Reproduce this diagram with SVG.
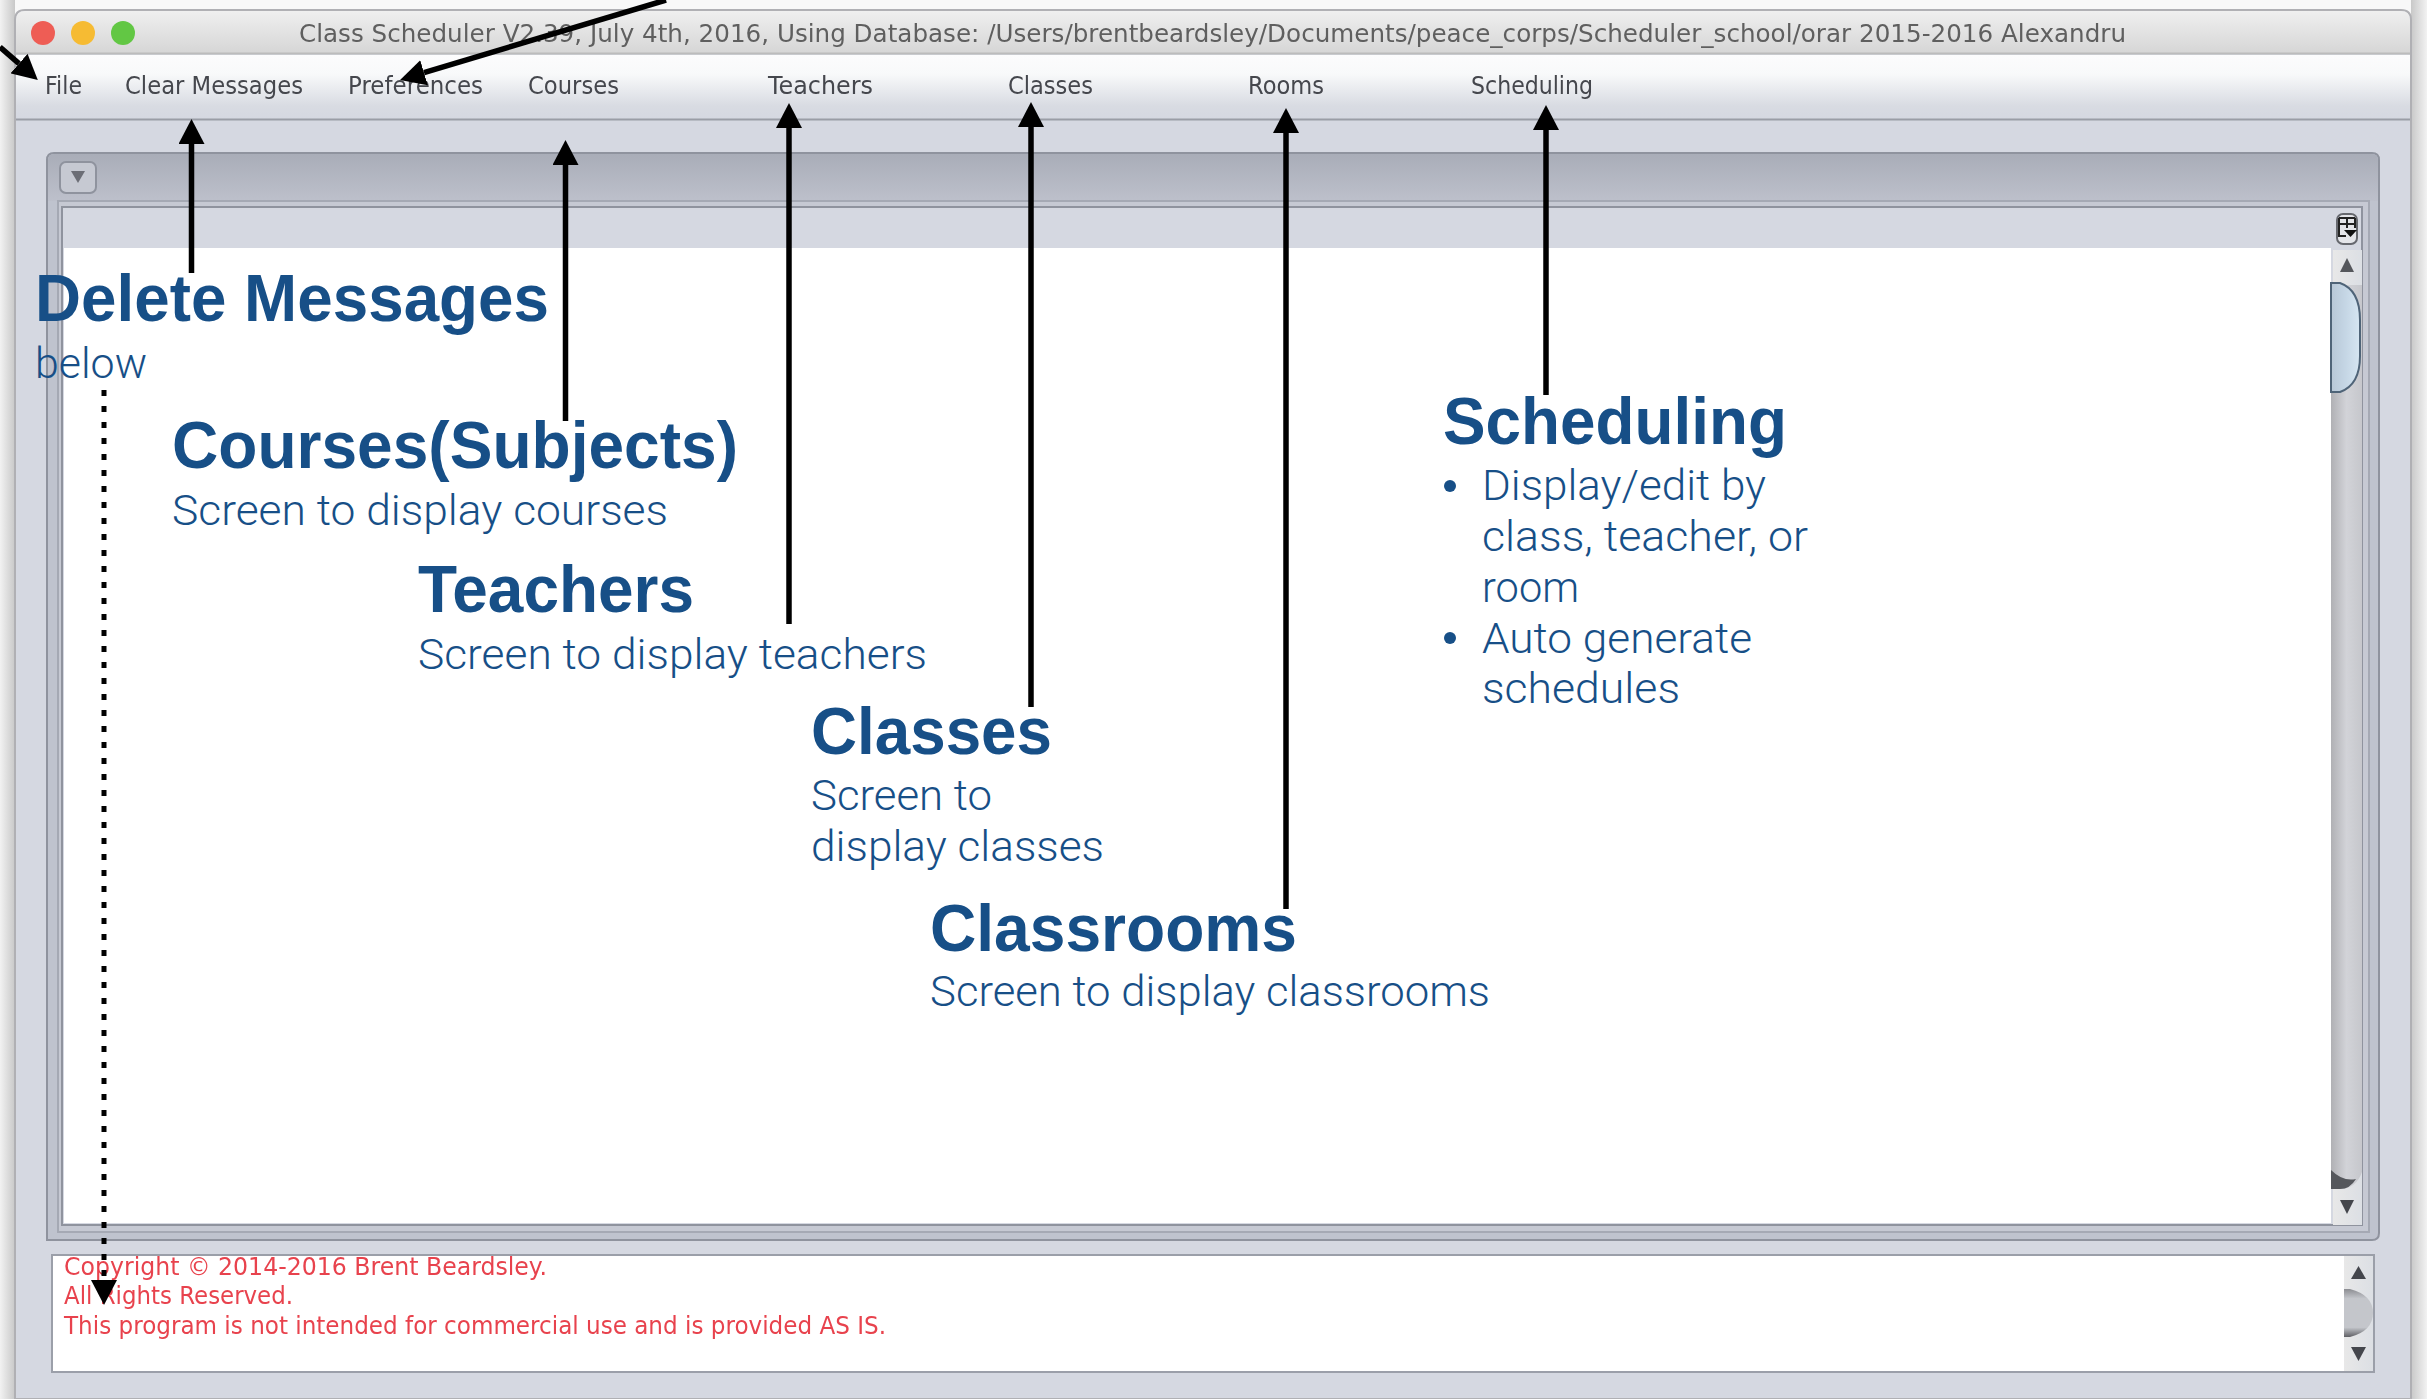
<svg xmlns="http://www.w3.org/2000/svg" width="2427" height="1399" viewBox="0 0 2427 1399">
<style>
.ui{font-family:"DejaVu Sans","Noto Sans","Liberation Sans",sans-serif;fill:#45474d;font-size:24.500px}
.title{font-family:"DejaVu Sans","Noto Sans","Liberation Sans",sans-serif;fill:#5f5f5f;font-size:25px}
.red{font-family:"DejaVu Sans","Noto Sans","Liberation Sans",sans-serif;fill:#e8434d;font-size:24px}
.h{font-family:"Liberation Sans",Arial,sans-serif;font-weight:700;font-size:66px;fill:#174f87}
.b{font-family:Roboto,"Liberation Sans",sans-serif;font-weight:300;font-size:43px;fill:#174f87}
.arrow{stroke:#000;stroke-width:5.500;fill:none}
.dot{stroke:#000;stroke-width:5;fill:none;stroke-dasharray:6 10}
.tri{fill:#44464c}
</style>
<defs>
<filter id="soft" x="-2%" y="-20%" width="104%" height="140%"><feGaussianBlur stdDeviation="0.6"/></filter>
<linearGradient id="tb" x1="0" y1="0" x2="0" y2="1"><stop offset="0" stop-color="#efefef"/><stop offset="1" stop-color="#d6d6d6"/></linearGradient>
<linearGradient id="mb" x1="0" y1="0" x2="0" y2="1"><stop offset="0" stop-color="#fcfcfd"/><stop offset=".3" stop-color="#f8f9fa"/><stop offset=".8" stop-color="#d8dbe2"/><stop offset="1" stop-color="#d5d8e1"/></linearGradient>
<linearGradient id="ph" x1="0" y1="0" x2="0" y2="1"><stop offset="0" stop-color="#a9adb8"/><stop offset="1" stop-color="#bdc0cb"/></linearGradient>
<linearGradient id="sl" x1="0" y1="0" x2="1" y2="0"><stop offset="0" stop-color="#e8e8e8"/><stop offset="1" stop-color="#dcdfe4"/></linearGradient>
<linearGradient id="th" x1="0" y1="0" x2="1" y2="0"><stop offset="0" stop-color="#b7c7d6"/><stop offset=".5" stop-color="#c5d6e5"/><stop offset="1" stop-color="#d6e6f2"/></linearGradient>
<linearGradient id="tr" x1="0" y1="0" x2="1" y2="0"><stop offset="0" stop-color="#b0b0b4"/><stop offset=".5" stop-color="#d2d3d8"/><stop offset="1" stop-color="#c6c7cc"/></linearGradient>
<linearGradient id="lt" x1="0" y1="0" x2="0" y2="1"><stop offset="0" stop-color="#8c8d92"/><stop offset=".2" stop-color="#c4c6cb"/><stop offset=".8" stop-color="#c4c6cb"/><stop offset="1" stop-color="#5f6065"/></linearGradient>
<linearGradient id="sr" x1="0" y1="0" x2="1" y2="0"><stop offset="0" stop-color="#c8c8c8"/><stop offset="1" stop-color="#f2f2f2"/></linearGradient>
<linearGradient id="sL" x1="1" y1="0" x2="0" y2="0"><stop offset="0" stop-color="#c8c8c8"/><stop offset="1" stop-color="#f2f2f2"/></linearGradient>
<marker id="ah" markerUnits="userSpaceOnUse" markerWidth="26" markerHeight="26" refX="0" refY="13" orient="auto"><path d="M0 0L25 13L0 26Z" fill="#000"/></marker>
</defs>
<rect width="2427" height="1399" fill="#f8f8f8"/>
<rect x="0" width="15" height="1399" fill="url(#sL)"/>
<rect x="2411" width="16" height="1399" fill="url(#sr)"/>
<g id="window">
<path d="M15 1399V20Q15 10 25 10H2401Q2411 10 2411 20V1399Z" fill="#d5d8e1" stroke="#b0b0b4" stroke-width="2"/>
<path d="M16 53V20Q16 11 25 11H2401Q2410 11 2410 20V53Z" fill="url(#tb)"/>
<line x1="16" y1="53.500" x2="2410" y2="53.500" stroke="#bcbcbc" stroke-width="2"/>
<rect x="16" y="55" width="2394" height="64" fill="url(#mb)"/>
<line x1="16" y1="119.500" x2="2410" y2="119.500" stroke="#9a9da6" stroke-width="2"/>
<circle cx="43" cy="33" r="12" fill="#ee5d55"/><circle cx="83" cy="33" r="12" fill="#f6bb33"/><circle cx="123" cy="33" r="12" fill="#62c744"/>
<text class="title" filter="url(#soft)" x="299" y="42" textLength="1827" lengthAdjust="spacingAndGlyphs">Class Scheduler V2.39, July 4th, 2016, Using Database: /Users/brentbeardsley/Documents/peace_corps/Scheduler_school/orar 2015-2016 Alexandru</text>
</g>
<g id="menu" filter="url(#soft)">
<text class="ui" x="45" y="94" textLength="37" lengthAdjust="spacingAndGlyphs">File</text>
<text class="ui" x="125" y="94" textLength="178" lengthAdjust="spacingAndGlyphs">Clear Messages</text>
<text class="ui" x="348" y="94" textLength="135" lengthAdjust="spacingAndGlyphs">Preferences</text>
<text class="ui" x="528" y="94" textLength="91" lengthAdjust="spacingAndGlyphs">Courses</text>
<text class="ui" x="768" y="94" textLength="105" lengthAdjust="spacingAndGlyphs">Teachers</text>
<text class="ui" x="1008" y="94" textLength="85" lengthAdjust="spacingAndGlyphs">Classes</text>
<text class="ui" x="1248" y="94" textLength="76" lengthAdjust="spacingAndGlyphs">Rooms</text>
<text class="ui" x="1471" y="94" textLength="122" lengthAdjust="spacingAndGlyphs">Scheduling</text>
</g>
<g id="main-panel">
<path d="M47 1240V160Q47 153 54 153H2372Q2379 153 2379 160V1233Q2379 1240 2372 1240Z" fill="#bfc3ce" stroke="#8f939e" stroke-width="2"/>
<path d="M48 201V160Q48 154 54 154H2372Q2378 154 2378 160V201Z" fill="url(#ph)"/>
<rect x="58" y="201" width="2311" height="1031" fill="#c6c9d3" stroke="#a5a9b4" stroke-width="2"/>
<rect x="62" y="207" width="2300" height="1018" fill="#d5d8e1" stroke="#8f939e" stroke-width="2"/>
<rect x="64" y="248" width="2267" height="975" fill="#fff"/>
<rect x="60" y="162" width="36" height="31" rx="6" fill="#c6c9d2" stroke="#8f939e" stroke-width="2"/>
<path d="M71 171H85L78 183Z" fill="#6c6e76"/>
<g id="corner-button">
<rect x="2337" y="214" width="20" height="30" rx="6" fill="#e4e5e9" stroke="#66686e" stroke-width="2"/>
<path d="M2339 218H2355M2339 224H2355M2339 218V236H2346M2347 218V228M2355 218V228" fill="none" stroke="#222" stroke-width="2"/>
<path d="M2344 230H2357L2350.500 237Z" fill="#111"/>
</g>
<rect x="2333" y="250" width="29" height="975" fill="url(#sl)"/>
<path d="M2331 285H2362V1172Q2356 1189 2340 1189H2331Z" fill="url(#tr)"/>
<path d="M2340 272L2347 258L2354 272Z" fill="#55575c"/>
<path d="M2331 283H2340Q2360 290 2360 320V356Q2360 385 2340 392H2331Z" fill="url(#th)" stroke="#4f6478" stroke-width="2"/>
<path d="M2331 1170Q2343 1182 2356 1179Q2350 1189 2340 1189H2331Z" fill="#55575c"/>
<path class="tri" d="M2340 1200H2354L2347 1214Z"/>
</g>
<g id="log-panel">
<rect x="52" y="1255" width="2322" height="117" fill="#fff" stroke="#9b9fa9" stroke-width="2"/>
<rect x="2344" y="1256" width="29" height="115" fill="url(#sl)"/>
<path class="tri" d="M2351 1279L2358.500 1266L2366 1279Z"/>
<path d="M2344 1289H2350Q2373 1295 2373 1313Q2373 1331 2350 1337H2344Z" fill="url(#lt)"/>
<path class="tri" d="M2351 1347H2366L2358.500 1361Z"/>
<g filter="url(#soft)">
<text class="red" x="64" y="1275" textLength="483" lengthAdjust="spacingAndGlyphs">Copyright © 2014-2016 Brent Beardsley.</text>
<text class="red" x="64" y="1304" textLength="229" lengthAdjust="spacingAndGlyphs">All Rights Reserved.</text>
<text class="red" x="64" y="1334" textLength="822" lengthAdjust="spacingAndGlyphs">This program is not intended for commercial use and is provided AS IS.</text>
</g>
</g>
<g id="label-delete">
<text class="h" x="35" y="320.500" textLength="514" lengthAdjust="spacingAndGlyphs">Delete Messages</text>
<text class="b" x="35" y="378" textLength="112" lengthAdjust="spacingAndGlyphs">below</text>
</g>
<g id="label-courses">
<text class="h" x="172" y="467.500" textLength="566" lengthAdjust="spacingAndGlyphs">Courses(Subjects)</text>
<text class="b" x="172" y="525" textLength="496" lengthAdjust="spacingAndGlyphs">Screen to display courses</text>
</g>
<g id="label-teachers">
<text class="h" x="418" y="611.500" textLength="276" lengthAdjust="spacingAndGlyphs">Teachers</text>
<text class="b" x="418" y="669" textLength="509" lengthAdjust="spacingAndGlyphs">Screen to display teachers</text>
</g>
<g id="label-classes">
<text class="h" x="811" y="753.500" textLength="241" lengthAdjust="spacingAndGlyphs">Classes</text>
<text class="b" x="811" y="810" textLength="181" lengthAdjust="spacingAndGlyphs">Screen to</text>
<text class="b" x="811" y="861" textLength="293" lengthAdjust="spacingAndGlyphs">display classes</text>
</g>
<g id="label-classrooms">
<text class="h" x="930" y="950.500" textLength="367" lengthAdjust="spacingAndGlyphs">Classrooms</text>
<text class="b" x="930" y="1006" textLength="560" lengthAdjust="spacingAndGlyphs">Screen to display classrooms</text>
</g>
<g id="label-scheduling">
<text class="h" x="1443" y="443.500" textLength="344" lengthAdjust="spacingAndGlyphs">Scheduling</text>
<circle cx="1450" cy="486" r="6" fill="#174f87"/>
<text class="b" x="1482" y="500" textLength="284" lengthAdjust="spacingAndGlyphs">Display/edit by</text>
<text class="b" x="1482" y="551" textLength="326" lengthAdjust="spacingAndGlyphs">class, teacher, or</text>
<text class="b" x="1482" y="602" textLength="97" lengthAdjust="spacingAndGlyphs">room</text>
<circle cx="1450" cy="638" r="6" fill="#174f87"/>
<text class="b" x="1482" y="653" textLength="270" lengthAdjust="spacingAndGlyphs">Auto generate</text>
<text class="b" x="1482" y="703" textLength="198" lengthAdjust="spacingAndGlyphs">schedules</text>
</g>
<g id="connectors">
<path class="arrow" marker-end="url(#ah)" d="M0 47L19 63.600"/>
<path class="arrow" marker-end="url(#ah)" d="M666 0L424 72.700"/>
<path class="arrow" marker-end="url(#ah)" d="M191.500 273V144"/>
<path class="arrow" marker-end="url(#ah)" d="M565.500 421V165"/>
<path class="arrow" marker-end="url(#ah)" d="M789 624V128"/>
<path class="arrow" marker-end="url(#ah)" d="M1031 707V127"/>
<path class="arrow" marker-end="url(#ah)" d="M1286 909V133"/>
<path class="arrow" marker-end="url(#ah)" d="M1546 395V130"/>
<path class="dot" marker-end="url(#ah)" d="M104 390V1280"/>
</g>
</svg>
